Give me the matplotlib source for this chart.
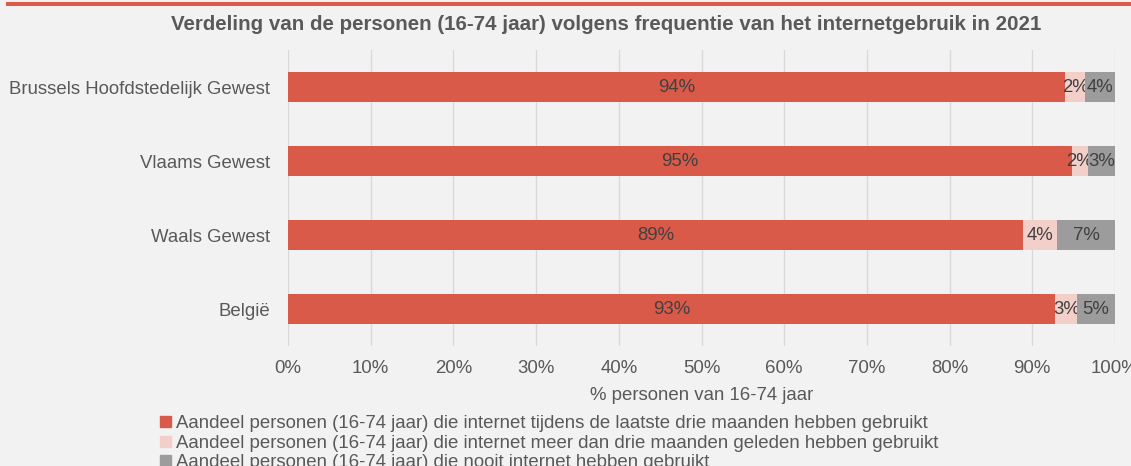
import numpy as np
import matplotlib.pyplot as plt
from matplotlib.patches import Patch, Rectangle

plt.rcParams['font.family'] = ['Liberation Sans', 'DejaVu Sans']

regions = ['Brussels Hoofdstedelijk Gewest', 'Vlaams Gewest', 'Waals Gewest', 'België']
recent = [94.0, 94.8, 88.9, 92.8]
older = [2.4, 1.9, 4.1, 2.6]
never = [3.6, 3.3, 7.0, 4.6]
series_names = [
    'Aandeel personen (16-74 jaar) die internet tijdens de laatste drie maanden hebben gebruikt',
    'Aandeel personen (16-74 jaar) die internet meer dan drie maanden geleden hebben gebruikt',
    'Aandeel personen (16-74 jaar) die nooit internet hebben gebruikt',
]
xticks = np.arange(0, 101, 10)

colors = ['#da5a4a', '#f3cfc9', '#9c9c9c']
bg = '#f2f2f2'
txt = '#595959'
fs = 13.4

fig = plt.figure(figsize=(11.31, 4.66), dpi=100, facecolor=bg)
ax = fig.add_axes([288 / 1131, 1 - 346 / 466, (1115 - 288) / 1131, (346 - 50) / 466])
ax.set_facecolor(bg)

# top accent line
fig.add_artist(Rectangle((6 / 1131, 1 - 6 / 466), 1, 4 / 466, transform=fig.transFigure,
                         color=colors[0], lw=0))

y = np.arange(len(regions))
left = np.zeros(len(regions))
for vals, c in zip([recent, older, never], colors):
    vals = np.array(vals)
    bars = ax.barh(y, vals, left=left, height=0.4, color=c, zorder=3)
    ax.bar_label(bars, labels=[f'{v:.0f}%' for v in vals], label_type='center',
                 fontsize=fs, color='#404040')
    left += vals

ax.set_xlim(0, 100)
ax.set_ylim(3.5, -0.5)
ax.set_yticks(y)
ax.set_yticklabels(regions, fontsize=fs, color=txt)
ax.set_xticks(xticks)
ax.set_xticklabels([f'{t}%' for t in xticks], fontsize=fs, color=txt)
ax.tick_params(axis='x', length=0, pad=10)
ax.tick_params(axis='y', length=0, pad=13)
ax.grid(axis='x', color='#d9d9d9', lw=1, zorder=0)
for s in ax.spines.values():
    s.set_visible(False)
ax.set_xlabel('% personen van 16-74 jaar', fontsize=fs, color=txt, labelpad=7)

fig.text(606 / 1131, 1 - 25 / 466,
         'Verdeling van de personen (16-74 jaar) volgens frequentie van het internetgebruik in 2021',
         ha='center', va='center', fontsize=14.8, fontweight='bold', color=txt)

handles = [Patch(color=c) for c in colors]
leg = fig.legend(handles, series_names, loc='upper left', bbox_to_anchor=(151 / 1131, 1 - 406 / 466),
                 frameon=False, fontsize=fs, handlelength=0.55, handleheight=0.55,
                 handletextpad=0.3, labelspacing=0.13, borderpad=0)
for t in leg.get_texts():
    t.set_color(txt)

fig.savefig('out.png', dpi=100, facecolor=bg)
